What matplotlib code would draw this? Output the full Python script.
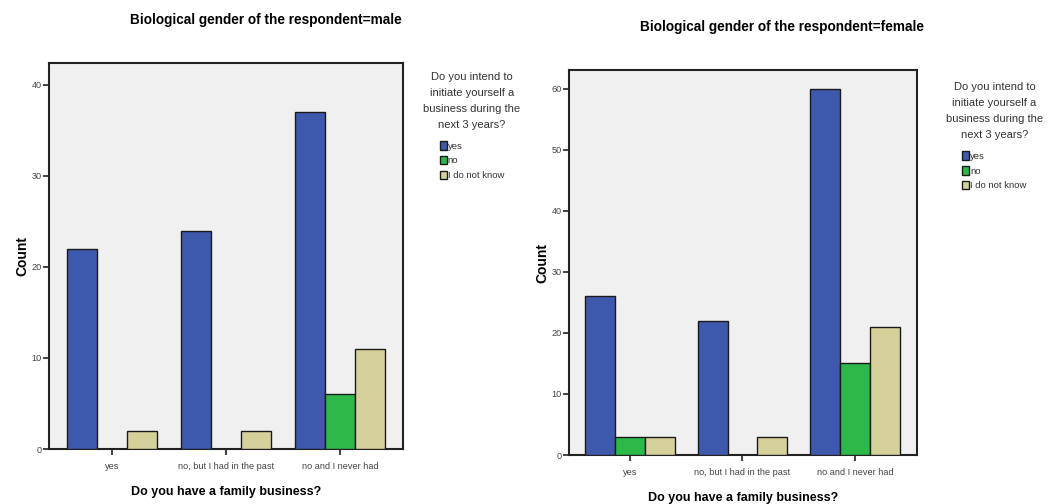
import numpy as np
import matplotlib.pyplot as plt

plt.rcParams['font.family'] = ['Liberation Sans', 'DejaVu Sans']

categories = ['yes', 'no, but I had in the past', 'no and I never had']
intent = ['yes', 'no', 'I do not know']
male = {'yes': [22, 24, 37], 'no': [0, 0, 6], 'I do not know': [2, 2, 11]}
female = {'yes': [26, 22, 60], 'no': [3, 0, 15], 'I do not know': [3, 3, 21]}
colors = ['#3E58AD', '#2DB84A', '#D6D09B']

legend_title = 'Do you intend to\ninitiate yourself a\nbusiness during the\nnext 3 years?'

fig = plt.figure(figsize=(10.58, 5.04), dpi=100)
ax1 = fig.add_axes([0.0463, 0.1091, 0.3346, 0.7659])
ax2 = fig.add_axes([0.5378, 0.0972, 0.3289, 0.7639])


def draw(ax, data, ymax, yticks, xlim, title, title_xy, leg_pos):
    x = np.arange(len(categories))
    w = 0.265
    for k, name in enumerate(intent):
        ax.bar(x + (k - 1) * w, data[name], width=w, color=colors[k],
               edgecolor='#1a1a1a', linewidth=1.0, label=name, zorder=3)
    ax.set_facecolor('#F0F0F0')
    ax.set_xlim(*xlim)
    ax.set_ylim(0, ymax)
    ax.set_yticks(yticks)
    ax.set_xticks(x)
    ax.set_xticklabels(categories)
    for s in ax.spines.values():
        s.set_linewidth(1.5)
        s.set_color('#222222')
    ax.tick_params(axis='both', direction='out', length=4, width=1.2,
                   labelsize=6.6, labelcolor='#444444', pad=1, color='#222222')
    ax.tick_params(axis='x', pad=5)
    ax.set_xlabel('Do you have a family business?', fontsize=9, fontweight='bold',
                  labelpad=11)
    ax.set_ylabel('Count', fontsize=10, fontweight='bold', labelpad=2)
    fig.text(title_xy[0], title_xy[1], title,
             ha='center', va='center', fontsize=9.8, fontweight='bold')
    leg = ax.legend(title=legend_title, loc='upper center', bbox_to_anchor=leg_pos,
                    bbox_transform=fig.transFigure, frameon=False, fontsize=6.8,
                    title_fontsize=8, handlelength=0.75, handleheight=1.0,
                    handletextpad=0.1, labelspacing=0.55, borderpad=0)
    leg.get_title().set_multialignment('center')
    leg.get_title().set_linespacing(1.75)
    leg.get_title().set_color('#333333')
    leg._legend_box.sep = 8
    for t in leg.get_texts():
        t.set_color('#333333')


draw(ax1, male, 42.4, [0, 10, 20, 30, 40], (-0.553, 2.553),
     'Biological gender of the respondent=male', (0.2515, 0.960), (0.446, 0.866))
draw(ax2, female, 63.1, [0, 10, 20, 30, 40, 50, 60], (-0.542, 2.551),
     'Biological gender of the respondent=female', (0.739, 0.946), (0.940, 0.846))

fig.savefig('out.png', dpi=100)
